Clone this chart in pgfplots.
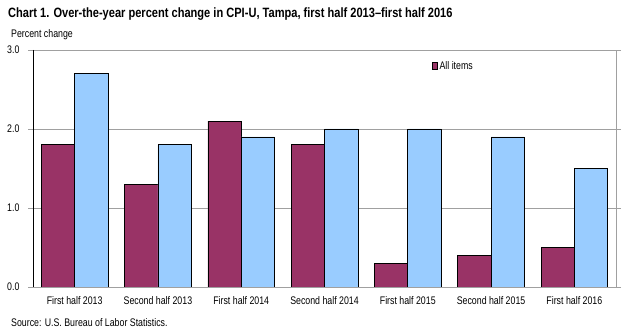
\documentclass[border=0pt]{standalone}
\usepackage{fontspec}
\setmainfont[FakeStretch=0.8]{Liberation Sans}
\newfontfamily\titlefont[FakeStretch=0.82,Ligatures=TeX]{Liberation Sans}
\usepackage{pgfplots}
\pgfplotsset{compat=1.18}
\definecolor{maroon}{HTML}{993366}
\definecolor{lblue}{HTML}{99CCFF}
\definecolor{gridg}{HTML}{A0A0A0}
\begin{document}
\begin{tikzpicture}[x=1pt,y=1pt]
\useasboundingbox (0,0) rectangle (627,332);
\begin{axis}[
  at={(33pt,45pt)}, anchor=south west,
  scale only axis, width=583pt, height=237pt,
  ymin=0, ymax=3, xmin=-0.5, xmax=6.5,
  ybar=0pt, bar width=0.4,
  ytick={0,1,2,3},
  yticklabel style={/pgf/number format/fixed,/pgf/number format/fixed zerofill,/pgf/number format/precision=1},
  /pgf/number format/assume math mode=true,
  ticklabel style={font=\fontsize{11}{13}\selectfont},
  xtick=data,
  xticklabels={First half 2013,Second half 2013,First half 2014,Second half 2014,First half 2015,Second half 2015,First half 2016},
  x tick style={draw=none},
  y tick style={gridg, thin},
  tick align=outside, major tick length=5pt,
  ymajorgrids, grid style={gridg, thin},
  axis line style={gridg, thin},
  xticklabel style={yshift=-1pt},
  yticklabel style={xshift=-5pt},
  legend style={draw=none, at={(0.684,0.93)}, anchor=west, font=\fontsize{11}{13}\selectfont, inner sep=0pt},
  legend image code/.code={\draw[black, fill=maroon, line width=0.6pt] (0pt,-3pt) rectangle (5pt,4pt);},
  legend entries={All items},
]
\addplot[fill=maroon, draw=black, line width=0.6pt, bar shift=-0.2] coordinates {(0,1.8) (1,1.3) (2,2.1) (3,1.8) (4,0.3) (5,0.4) (6,0.5)};
\addplot[fill=lblue, draw=black, line width=0.6pt, bar shift=0.2] coordinates {(0,2.7) (1,1.8) (2,1.9) (3,2.0) (4,2.0) (5,1.9) (6,1.5)};
\draw[black, line width=0.8pt] (rel axis cs:0,1) -- (rel axis cs:0,0) -- (rel axis cs:1,0);
\end{axis}
\node[anchor=west, font=\fontsize{13.5}{15}\selectfont\titlefont\bfseries, inner sep=0pt] at (8,318) {Chart 1. Over-the-year percent change in CPI-U, Tampa, first half 2013–first  half 2016};
\node[anchor=west, font=\fontsize{11}{13}\selectfont, inner sep=0pt] at (11,297) {Percent change};
\node[anchor=west, font=\fontsize{11}{13}\selectfont, inner sep=0pt] at (11,9) {Source: U.S. Bureau of Labor Statistics.};
\end{tikzpicture}
\end{document}
